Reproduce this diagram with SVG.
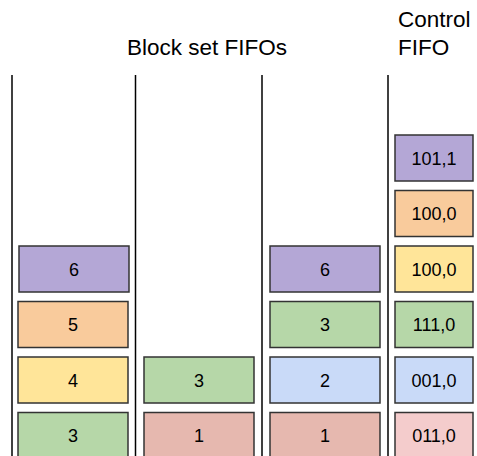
<svg xmlns="http://www.w3.org/2000/svg" width="477" height="456" viewBox="0 0 477 456">
  <style>
    .title { font-family: "Liberation Sans", Arial, sans-serif; font-size: 22.5px; fill: #000; }
    .lbl { font-family: "Liberation Sans", Arial, sans-serif; font-size: 18px; fill: #000; text-anchor: middle; }
    .box { stroke: #333; stroke-width: 1.5; }
    .sep { stroke: #000; stroke-width: 1.5; fill: none; }
    .purple { fill: #b4a7d6; }
    .orange { fill: #f9cb9c; }
    .yellow { fill: #ffe599; }
    .green { fill: #b6d7a8; }
    .red { fill: #e6b8af; }
    .blue { fill: #c9daf8; }
    .pink { fill: #f4cccc; }
  </style>
  <rect width="477" height="456" fill="#fff"/>

  <!-- headings -->
  <text class="title" x="207" y="55" text-anchor="middle">Block set FIFOs</text>
  <text class="title" x="398" y="27">Control</text>
  <text class="title" x="398" y="55">FIFO</text>

  <!-- FIFO separators -->
  <g id="separators">
    <line class="sep" x1="12" y1="75" x2="12" y2="456"/>
    <line class="sep" x1="135.5" y1="75" x2="135.5" y2="456"/>
    <line class="sep" x1="262" y1="75" x2="262" y2="456"/>
    <line class="sep" x1="388" y1="75" x2="388" y2="456"/>
  </g>

  <!-- block set FIFO 1 -->
  <g id="fifo1">
    <g id="f1-6"><rect class="box purple" x="19" y="246" width="110" height="46"/><text class="lbl" x="74" y="275.5">6</text></g>
    <g id="f1-5"><rect class="box orange" x="18" y="301.5" width="110" height="46"/><text class="lbl" x="73" y="331">5</text></g>
    <g id="f1-4"><rect class="box yellow" x="18" y="357" width="110" height="46"/><text class="lbl" x="73" y="386.5">4</text></g>
    <g id="f1-3"><rect class="box green" x="18" y="412.5" width="110" height="46"/><text class="lbl" x="73" y="442">3</text></g>
  </g>

  <!-- block set FIFO 2 -->
  <g id="fifo2">
    <g id="f2-3"><rect class="box green" x="144" y="357" width="110" height="46"/><text class="lbl" x="199" y="386.5">3</text></g>
    <g id="f2-1"><rect class="box red" x="144" y="412.5" width="110" height="46"/><text class="lbl" x="199" y="442">1</text></g>
  </g>

  <!-- block set FIFO 3 -->
  <g id="fifo3">
    <g id="f3-6"><rect class="box purple" x="270" y="246" width="110" height="46"/><text class="lbl" x="325" y="275.5">6</text></g>
    <g id="f3-3"><rect class="box green" x="270" y="301.5" width="110" height="46"/><text class="lbl" x="325" y="331">3</text></g>
    <g id="f3-2"><rect class="box blue" x="270" y="357" width="110" height="46"/><text class="lbl" x="325" y="386.5">2</text></g>
    <g id="f3-1"><rect class="box red" x="270" y="412.5" width="110" height="46"/><text class="lbl" x="325" y="442">1</text></g>
  </g>

  <!-- control FIFO -->
  <g id="control">
    <g id="c-1011"><rect class="box purple" x="395" y="135" width="78" height="46"/><text class="lbl" x="434" y="164.5">101,1</text></g>
    <g id="c-1000a"><rect class="box orange" x="395" y="190.5" width="78" height="46"/><text class="lbl" x="434" y="220">100,0</text></g>
    <g id="c-1000b"><rect class="box yellow" x="395" y="246" width="78" height="46"/><text class="lbl" x="434" y="275.5">100,0</text></g>
    <g id="c-1110"><rect class="box green" x="395" y="301.5" width="78" height="46"/><text class="lbl" x="434" y="331">111,0</text></g>
    <g id="c-0010"><rect class="box blue" x="395" y="357" width="78" height="46"/><text class="lbl" x="434" y="386.5">001,0</text></g>
    <g id="c-0110"><rect class="box pink" x="395" y="412.5" width="78" height="46"/><text class="lbl" x="434" y="442">011,0</text></g>
  </g>
</svg>
